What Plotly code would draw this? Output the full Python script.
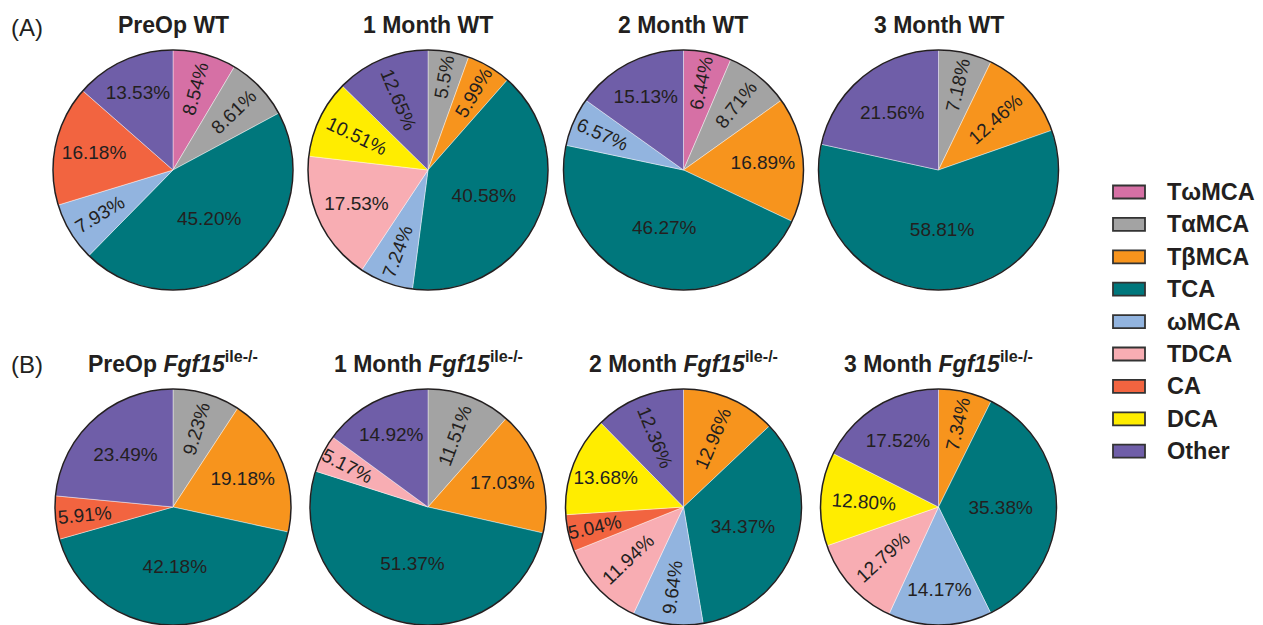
import plotly.graph_objects as go

# Bile acid species, in slice order (clockwise from 12 o'clock)
categories = ["TωMCA", "TαMCA", "TβMCA", "TCA", "ωMCA", "TDCA", "CA", "DCA", "Other"]
cat_colors = ["#D670A5", "#A3A3A3", "#F7941D", "#00777C", "#92B4DF",
              "#F8ADB3", "#F26440", "#FFED00", "#6F5EA8"]

# Percent composition per group (strings keep the printed precision; None = absent)
preop_wt = ["8.54", "8.61", None, "45.20", "7.93", None, "16.18", None, "13.53"]
month1_wt = [None, "5.5", "5.99", "40.58", "7.24", "17.53", None, "10.51", "12.65"]
month2_wt = ["6.44", "8.71", "16.89", "46.27", "6.57", None, None, None, "15.13"]
month3_wt = [None, "7.18", "12.46", "58.81", None, None, None, None, "21.56"]
preop_ko = [None, "9.23", "19.18", "42.18", None, None, "5.91", None, "23.49"]
month1_ko = [None, "11.51", "17.03", "51.37", None, "5.17", None, None, "14.92"]
month2_ko = [None, None, "12.96", "34.37", "9.64", "11.94", "5.04", "13.68", "12.36"]
month3_ko = [None, None, "7.34", "35.38", "14.17", "12.79", None, "12.80", "17.52"]

timepoints = ["PreOp", "1 Month", "2 Month", "3 Month"]
wt_groups = [preop_wt, month1_wt, month2_wt, month3_wt]
ko_groups = [preop_ko, month1_ko, month2_ko, month3_ko]

W, H = 1263, 625
FONT = "Liberation Sans, Arial, Helvetica, sans-serif"
INK = "#231F20"

# pixel layout of the pie grid
col_cx = [173, 428, 683.5, 938.5]
row_cy = [170, 507]
row_r = [120, 118]

fig = go.Figure()
shapes = []
annotations = []


def add_pie(values, cx, cy, r):
    labels, vals, texts, cols = [], [], [], []
    for cat, col, v in zip(categories, cat_colors, values):
        if v is None:
            continue
        labels.append(cat)
        vals.append(float(v))
        texts.append(v + "%")
        cols.append(col)
    x0, x1 = (cx - r) / W, (cx + r) / W
    y0, y1 = max(0.0, 1 - (cy + r) / H), min(1.0, 1 - (cy - r) / H)
    fig.add_trace(go.Pie(
        labels=labels, values=vals, text=texts, textinfo="text",
        textposition="inside", insidetextorientation="auto",
        textfont=dict(family=FONT, size=19, color=INK),
        marker=dict(colors=cols, line=dict(color="rgba(255,255,255,0.7)", width=0.6)),
        sort=False, direction="clockwise", rotation=0,
        domain=dict(x=[x0, x1], y=[y0, y1]),
        showlegend=False, hoverinfo="label+text",
    ))
    # black outline around the whole pie
    shapes.append(dict(type="circle", xref="paper", yref="paper",
                       x0=x0, x1=x1, y0=1 - (cy + r) / H, y1=y1,
                       line=dict(color=INK, width=1.5)))


for j, (tp, vals) in enumerate(zip(timepoints, wt_groups)):
    add_pie(vals, col_cx[j], row_cy[0], row_r[0])
    annotations.append(dict(text=f"<b>{tp} WT</b>", x=col_cx[j] / W, y=1 - 25 / H,
                            xref="paper", yref="paper", xanchor="center", yanchor="middle",
                            showarrow=False, font=dict(family=FONT, size=23, color=INK)))

for j, (tp, vals) in enumerate(zip(timepoints, ko_groups)):
    add_pie(vals, col_cx[j], row_cy[1], row_r[1])
    annotations.append(dict(text=f"<b>{tp} <i>Fgf15</i><sup>ile-/-</sup></b>",
                            x=col_cx[j] / W, y=1 - 362 / H,
                            xref="paper", yref="paper", xanchor="center", yanchor="middle",
                            showarrow=False, font=dict(family=FONT, size=23, color=INK)))

# panel letters
for lab, py in [("(A)", 27), ("(B)", 364)]:
    annotations.append(dict(text=lab, x=9 / W, y=1 - py / H, xref="paper", yref="paper",
                            xanchor="left", yanchor="middle", showarrow=False,
                            font=dict(family=FONT, size=24, color=INK)))

# legend drawn as swatches + labels
leg_x0, leg_x1, leg_tx = 1113, 1145, 1165
leg_y0, leg_dy, sw_h = 192, 32.4, 13
for i, (cat, col) in enumerate(zip(categories, cat_colors)):
    yc = leg_y0 + i * leg_dy
    shapes.append(dict(type="rect", xref="paper", yref="paper",
                       x0=leg_x0 / W, x1=leg_x1 / W,
                       y0=1 - (yc + sw_h / 2) / H, y1=1 - (yc - sw_h / 2) / H,
                       fillcolor=col, line=dict(color="#333333", width=1.8)))
    annotations.append(dict(text=f"<b>{cat}</b>", x=leg_tx / W, y=1 - yc / H,
                            xref="paper", yref="paper", xanchor="left", yanchor="middle",
                            showarrow=False, font=dict(family=FONT, size=23.5, color=INK)))

fig.update_layout(
    width=W, height=H, autosize=False,
    margin=dict(l=0, r=0, t=0, b=0),
    paper_bgcolor="white", plot_bgcolor="white",
    uniformtext=dict(minsize=19, mode="show"),
    shapes=shapes, annotations=annotations,
)

fig.write_html("out.html")
